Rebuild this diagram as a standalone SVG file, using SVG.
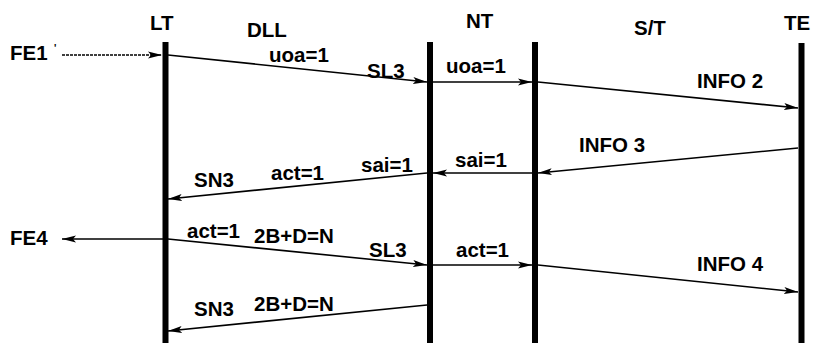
<svg xmlns="http://www.w3.org/2000/svg" width="814" height="343" viewBox="0 0 814 343">
<style>
text{font-family:"Liberation Sans",Arial,sans-serif;font-weight:bold;font-size:20.5px;fill:#000}
.life{stroke:#000;stroke-width:6}
.msg{stroke:#000;stroke-width:1.6;fill:none;marker-end:url(#ah)}
</style>
<defs>
<marker id="ah" viewBox="0 0 14 8" refX="14" refY="4" markerWidth="14" markerHeight="8" markerUnits="userSpaceOnUse" orient="auto">
<path d="M0,0.5 L14,4 L0,7.5 L3,4 Z" fill="#000"/>
</marker>
</defs>
<g id="LT"><line class="life" x1="165.5" y1="42" x2="165.5" y2="343"/><text x="150" y="30">LT</text></g>
<g id="DLL"><text x="247" y="37">DLL</text></g>
<g id="NT"><line class="life" x1="430" y1="42" x2="430" y2="343"/><text x="466" y="28">NT</text></g>
<g id="ST"><line class="life" x1="535" y1="42" x2="535" y2="343"/><text x="634" y="35">S/T</text></g>
<g id="TE"><line class="life" x1="801.5" y1="43" x2="801.5" y2="343"/><text x="784" y="30">TE</text></g>
<g id="FE1"><text x="10" y="60">FE1</text><text x="54" y="52" style="font-size:10px">'</text></g>
<g id="FE4"><text x="10" y="245">FE4</text></g>
<g id="connectors">
<line class="msg" x1="62" y1="55" x2="162" y2="55" stroke-dasharray="3,1"/>
<line class="msg" x1="168" y1="55" x2="427" y2="82"/>
<line class="msg" x1="433" y1="82" x2="532" y2="82"/>
<line class="msg" x1="538" y1="82" x2="798" y2="108"/>
<line class="msg" x1="798" y1="148" x2="538" y2="173"/>
<line class="msg" x1="532" y1="173" x2="433" y2="173"/>
<line class="msg" x1="427" y1="173" x2="168" y2="199"/>
<line class="msg" x1="163" y1="239" x2="62" y2="239"/>
<line class="msg" x1="168" y1="239" x2="427" y2="265"/>
<line class="msg" x1="433" y1="265" x2="532" y2="265"/>
<line class="msg" x1="538" y1="265" x2="798" y2="292"/>
<line class="msg" x1="427" y1="305" x2="168" y2="331"/>
</g>
<g id="labels">
<text x="269" y="62">uoa=1</text>
<text x="367" y="78">SL3</text>
<text x="446" y="73">uoa=1</text>
<text x="697" y="88">INFO 2</text>
<text x="579" y="152">INFO 3</text>
<text x="455" y="167">sai=1</text>
<text x="361" y="172">sai=1</text>
<text x="271" y="180">act=1</text>
<text x="194" y="187">SN3</text>
<text x="187" y="238">act=1</text>
<text x="254" y="243">2B+D=N</text>
<text x="369" y="257">SL3</text>
<text x="456" y="257">act=1</text>
<text x="697" y="271">INFO 4</text>
<text x="194" y="316">SN3</text>
<text x="254" y="311">2B+D=N</text>
</g>
</svg>
